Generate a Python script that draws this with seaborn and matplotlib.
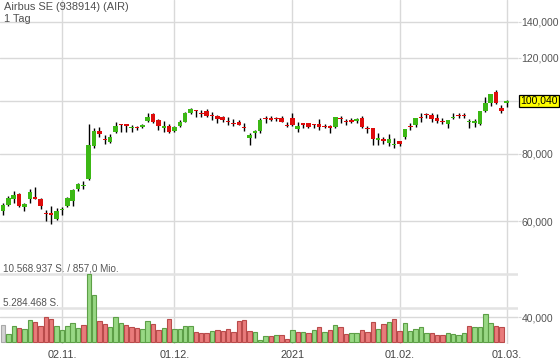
import numpy as np
import pandas as pd
import matplotlib
matplotlib.use("Agg")
import matplotlib.pyplot as plt
import matplotlib.transforms as mtransforms
from matplotlib.colors import to_hex
from matplotlib.ticker import FixedLocator, NullLocator
import seaborn as sns

sns.set_style("white")
plt.rcParams['font.family'] = ['Liberation Sans', 'DejaVu Sans']

title = "Airbus SE (938914) (AIR)"
period = "1 Tag"
turnover = "857,0 Mio."

# trading days, exchange closed on 25.12. and 01.01.
dates = pd.bdate_range("2020-10-16", "2021-03-01")
dates = dates.drop([pd.Timestamp("2020-12-25"), pd.Timestamp("2021-01-01")])

# daily candles in EUR
opens = [62.6, 64.4, 65.9, 67.5, 63.9, 65.9, 66.5, 66.0, 62.2, 62.1,
         60.7, 63.0, 64.1, 65.4, 68.8, 69.6, 71.7, 82.7, 88.0, 85.2,
         84.1, 87.8, 90.4, 90.3, 89.0, 89.6, 89.6, 91.9, 94.6, 92.3,
         89.1, 90.0, 88.1, 89.9, 91.6, 95.0, 96.0, 95.0, 96.0, 94.0,
         93.8, 93.4, 91.6, 91.0, 91.6, 89.6, 85.3, 87.2, 88.0, 92.8,
         93.2, 93.2, 93.2, 90.3, 93.0, 88.9, 91.0, 91.0, 90.6, 90.8,
         89.9, 89.9, 89.6, 92.9, 91.6, 92.3, 92.0, 93.2, 89.3, 89.2,
         84.9, 85.0, 83.7, 83.0, 84.3, 86.0, 90.0, 90.3, 93.5, 94.5,
         94.2, 93.0, 91.9, 90.8, 93.2, 94.0, 94.0, 91.3, 91.1, 90.8,
         95.9, 99.3, 103.9, 97.1, 99.3]
highs = [64.8, 66.8, 68.2, 67.7, 64.8, 68.9, 69.5, 66.3, 63.0, 64.1,
         63.4, 63.9, 66.5, 68.9, 70.7, 71.1, 90.7, 89.0, 89.4, 86.6,
         87.0, 91.4, 90.6, 90.6, 90.3, 90.0, 90.8, 94.9, 94.9, 92.8,
         91.8, 90.8, 90.0, 92.1, 95.6, 97.2, 96.2, 96.1, 96.6, 95.4,
         94.3, 94.0, 93.3, 92.8, 92.1, 91.0, 87.2, 88.5, 93.1, 94.0,
         93.7, 93.5, 93.7, 91.5, 95.2, 91.6, 91.1, 91.1, 90.7, 92.6,
         90.8, 90.5, 93.5, 93.8, 92.5, 93.2, 93.2, 93.7, 90.0, 89.2,
         87.4, 86.0, 86.8, 85.3, 84.3, 88.7, 91.0, 93.2, 94.9, 95.2,
         95.2, 94.6, 93.2, 92.3, 94.9, 95.2, 95.0, 92.5, 92.5, 95.9,
         101.6, 103.0, 104.6, 98.3, 100.6]
lows = [61.6, 64.1, 64.8, 63.9, 62.6, 64.8, 65.9, 63.2, 60.1, 59.3,
        60.4, 61.8, 63.8, 64.0, 68.4, 68.8, 71.5, 81.9, 86.0, 83.3,
        83.6, 87.2, 87.5, 87.6, 87.8, 88.4, 89.1, 91.6, 91.0, 88.6,
        87.8, 87.3, 87.6, 89.7, 91.3, 94.5, 93.6, 93.4, 93.4, 92.3,
        91.2, 91.5, 90.2, 90.1, 90.2, 88.1, 82.8, 85.3, 87.2, 91.0,
        91.8, 92.0, 91.4, 89.7, 90.0, 87.8, 89.0, 89.0, 89.0, 88.6,
        89.0, 87.4, 89.1, 91.0, 90.4, 91.0, 91.0, 89.3, 87.4, 83.0,
        83.0, 83.2, 82.5, 81.9, 82.5, 85.0, 88.5, 89.6, 91.6, 93.1,
        91.6, 91.0, 90.8, 89.2, 92.5, 93.1, 93.2, 89.3, 89.6, 90.3,
        95.3, 98.0, 98.7, 94.9, 97.6]
closes = [64.4, 66.2, 67.2, 64.2, 64.6, 68.0, 66.0, 64.2, 62.0, 61.8,
          62.7, 63.2, 66.2, 68.6, 70.3, 69.8, 83.0, 88.0, 86.9, 84.8,
          85.9, 90.0, 90.2, 90.1, 89.6, 89.0, 90.3, 93.6, 91.6, 89.9,
          90.1, 87.8, 89.6, 91.6, 95.0, 96.5, 95.8, 94.8, 93.7, 93.8,
          92.5, 92.3, 91.3, 90.7, 90.3, 89.3, 86.6, 88.0, 92.3, 92.5,
          92.4, 92.8, 91.6, 90.0, 90.2, 90.0, 90.5, 89.7, 90.3, 89.6,
          89.7, 89.3, 93.5, 92.5, 91.4, 91.6, 92.7, 89.7, 88.9, 85.2,
          85.4, 84.5, 85.0, 83.4, 83.3, 88.7, 89.6, 92.9, 93.2, 94.1,
          92.8, 92.0, 91.5, 92.3, 93.6, 93.7, 93.8, 91.5, 91.8, 95.9,
          99.0, 103.0, 99.3, 95.9, 100.04]
# volume in million shares (no volume yet for the last day)
volumes_mio = [2.64, 1.24, 2.49, 2.13, 2.02, 3.42, 3.06, 2.49, 3.83, 3.58,
               2.54, 1.87, 2.54, 2.90, 2.23, 2.64, 10.568937, 7.26, 3.27, 2.80,
               2.38, 3.84, 2.90, 2.64, 2.38, 2.23, 1.97, 3.32, 2.80, 1.87,
               2.13, 3.58, 1.97, 1.97, 2.52, 2.52, 1.60, 1.35, 1.35, 1.68,
               1.87, 1.71, 2.07, 1.50, 3.32, 3.42, 1.71, 1.50, 0.31, 0.93,
               0.93, 1.04, 1.04, 0.47, 1.87, 1.56, 1.56, 1.35, 1.87, 2.28,
               1.61, 1.87, 2.64, 2.28, 1.24, 1.35, 1.45, 1.87, 1.50, 3.06,
               2.02, 2.75, 3.06, 3.58, 1.76, 3.00, 1.76, 2.02, 2.28, 1.35,
               1.35, 1.09, 1.09, 1.35, 1.19, 1.09, 1.45, 2.49, 2.28, 2.28,
               4.30, 2.90, 2.54, 2.28, np.nan]
price_ticks = [40, 60, 80, 100, 120, 140]


def de_price(p):
    return f"{p:.3f}".replace(".", ",")


def de_int(n):
    return f"{int(n):,}".replace(",", ".")


x = np.arange(len(dates))
o, h, l, c = map(np.array, (opens, highs, lows, closes))
vol = np.array(volumes_mio) * 1e6
vmax = np.nanmax(vol)

fig = plt.figure(figsize=(5.6, 3.62), dpi=100)
ax = fig.add_axes([0, 18 / 362, 518 / 560, 344 / 362])
axv = fig.add_axes([0, 18 / 362, 518 / 560, 344 / 362])
axv.patch.set_alpha(0)

# candles
up = c >= o
bottom = np.minimum(o, c)
top = np.maximum(np.maximum(o, c), bottom * 1.0045)
ax.vlines(x, l, h, color="black", lw=1, zorder=3)
ax.bar(x, top - bottom, bottom=bottom, width=0.84, linewidth=0,
       color=np.where(up, "#3cb815", "#de0c0c"), zorder=4)

ax.set_yscale("log")
ax.set_ylim(35.7, 153.4)
ax.set_xlim(-0.56, 96.1)
ax.yaxis.set_major_locator(FixedLocator(price_ticks))
ax.yaxis.set_minor_locator(NullLocator())
ax.set_yticklabels(["" if p == 100 else de_price(p) for p in price_ticks])

month_start = np.flatnonzero(dates.month[1:] != dates.month[:-1]) + 1
ax.set_xticks(month_start)
ax.set_xticklabels(["%d" % dates[i].year if dates[i].month == 1 else dates[i].strftime("%d.%m.")
                    for i in month_start])
ax.grid(True, color="#d9d9d9", lw=1)
ax.set_axisbelow(True)
ax.yaxis.tick_right()
ax.tick_params(axis="y", length=2, color="#d9d9d9", pad=0.5, labelsize=7.5, labelcolor="#555555")
ax.tick_params(axis="x", length=0, pad=4, labelsize=7.8, labelcolor="#444444")
for s in ax.spines.values():
    s.set_visible(False)

# volume bars, coloured by change of close
direction = ["first"] + ["up" if c[i] > c[i - 1] else "down" for i in range(1, len(c))]
vol_fill = {"up": "#98d884", "down": "#e97b7b", "first": "#d3d3d3"}
vol_edge = {"#98d884": "#5d9f47", "#e97b7b": "#b94b4b", "#d3d3d3": "#a9a9a9"}
vol_df = pd.DataFrame({"idx": x, "vol": vol, "dir": direction}).dropna()
sns.barplot(data=vol_df, x="idx", y="vol", hue="dir", palette=vol_fill, native_scale=True,
            dodge=False, width=0.82, saturation=1, legend=False, linewidth=0.8, ax=axv)
for p in axv.patches:
    p.set_edgecolor(vol_edge.get(to_hex(p.get_facecolor()), "#888888"))
    p.set_zorder(3)

axv.axhline(vmax, color="#e3e3e3", lw=1.8, zorder=1)
axv.axhline(vmax / 2, color="#e3e3e3", lw=1.8, zorder=1)
axv.set_xlim(-0.56, 96.1)
axv.set_ylim(-0.0294 * vmax, 5.03 * vmax)
axv.axis("off")

lab_trans = mtransforms.offset_copy(
    mtransforms.blended_transform_factory(axv.transAxes, axv.transData), fig=fig, y=2.5, units="dots")
axv.text(3 / 518, vmax, f"{de_int(vmax)} S. / {turnover}", transform=lab_trans,
         va="baseline", fontsize=7.1, color="#555555")
axv.text(3 / 518, vmax / 2, f"{de_int(vmax / 2)} S.", transform=lab_trans,
         va="baseline", fontsize=7.1, color="#555555")

# last price marker
ax.text(1 + 2 / 518, closes[-1], de_price(closes[-1]),
        transform=mtransforms.blended_transform_factory(ax.transAxes, ax.transData),
        va="center", ha="left", fontsize=7.5, color="black", clip_on=False,
        bbox=dict(boxstyle="square,pad=0.12", fc="#ffff00", ec="black", lw=0.9))

fig.text(4 / 560, 1 - 7.5 / 362, title, fontsize=7.9, color="#505050", va="center")
fig.text(4 / 560, 1 - 18.5 / 362, period, fontsize=7.9, color="#505050", va="center")

fig.savefig("out.png", dpi=100)
